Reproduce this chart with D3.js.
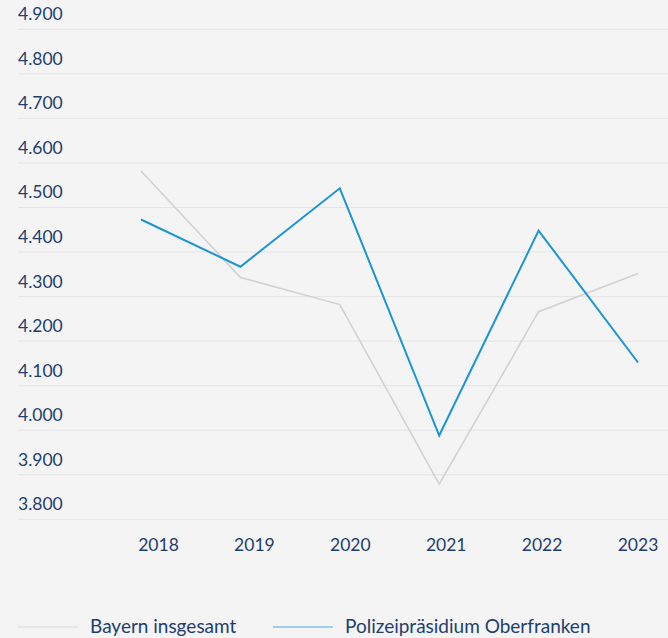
<!DOCTYPE html>
<html>
<head>
<meta charset="utf-8">
<script src="https://cdn.jsdelivr.net/npm/d3@7"></script>
<style>
  html, body { margin: 0; padding: 0; background: #f4f4f4; }
  svg { display: block; font-family: Lato, "Open Sans", sans-serif; }
</style>
</head>
<body>
<svg id="chart" width="668" height="638"></svg>
<script>
// data
const years = [2018, 2019, 2020, 2021, 2022, 2023]
const bayern = [4582, 4343, 4282, 3879, 4266, 4352]
const oberfranken = [4473, 4367, 4543, 3988, 4448, 4152]
const yTicks = [3800, 3900, 4000, 4100, 4200, 4300, 4400, 4500, 4600, 4700, 4800, 4900]
const seriesNames = ["Bayern insgesamt", "Polizeipräsidium Oberfranken"]

const width = 668
const height = 638
const textColour = "#1e3e6d"
const colours = ["#d2d2d2", "#1b95d3"]
const legendColours = ["#dadada", "#4aa8df"]

const svg = d3.select("#chart")

let y = d3.scaleLinear()
  .domain([3800, 4900])
  .range([519.3, 29.3])

// points and labels do not sit on the same grid in the original
let xLine = d3.scaleLinear()
  .domain(d3.extent(years))
  .range([141, 638])
let xLabel = d3.scalePoint()
  .domain(years)
  .range([158.5, 638])

// Gridlines + y labels
let grid = svg.append("g").attr("class", "grid")
grid.selectAll("line")
  .data(yTicks)
  .join("line")
  .attr("x1", 18)
  .attr("x2", width)
  .attr("y1", d => y(d))
  .attr("y2", d => y(d))
  .style("stroke", "#e5e5e5")
  .style("stroke-width", 1)
grid.selectAll("text")
  .data(yTicks)
  .join("text")
  .attr("x", 18)
  .attr("y", d => y(d) - 9)
  .text(d => d3.format(".3f")(d / 1000))
  .style("fill", textColour)
  .style("font-size", "17.5px")

// x axis labels
svg.append("g")
  .attr("class", "xAxis")
  .selectAll("text")
  .data(years)
  .join("text")
  .attr("x", d => xLabel(d))
  .attr("y", 551)
  .attr("text-anchor", "middle")
  .text(d => d)
  .style("fill", textColour)
  .style("font-size", "17.5px")

// Lines
let line = d3.line()
  .x((d, i) => xLine(years[i]))
  .y(d => y(d))

svg.append("g")
  .attr("class", "lines")
  .selectAll("path")
  .data([bayern, oberfranken])
  .join("path")
  .attr("d", line)
  .style("fill", "none")
  .style("stroke", (d, i) => colours[i])
  .style("stroke-width", (d, i) => i ? 2 : 1.6)
  .style("stroke-linejoin", "miter")

// Legend
let legendX = [18, 273]
let legend = svg.append("g")
  .attr("class", "legend")
  .selectAll("g")
  .data(seriesNames)
  .join("g")
  .attr("transform", (d, i) => `translate(${legendX[i]},627)`)
legend.append("line")
  .attr("x1", 0)
  .attr("x2", 60)
  .style("stroke", (d, i) => legendColours[i])
  .style("stroke-width", 1)
legend.append("text")
  .attr("x", 72)
  .attr("y", 6)
  .text(d => d)
  .style("fill", textColour)
  .style("font-size", "19px")
</script>
</body>
</html>
